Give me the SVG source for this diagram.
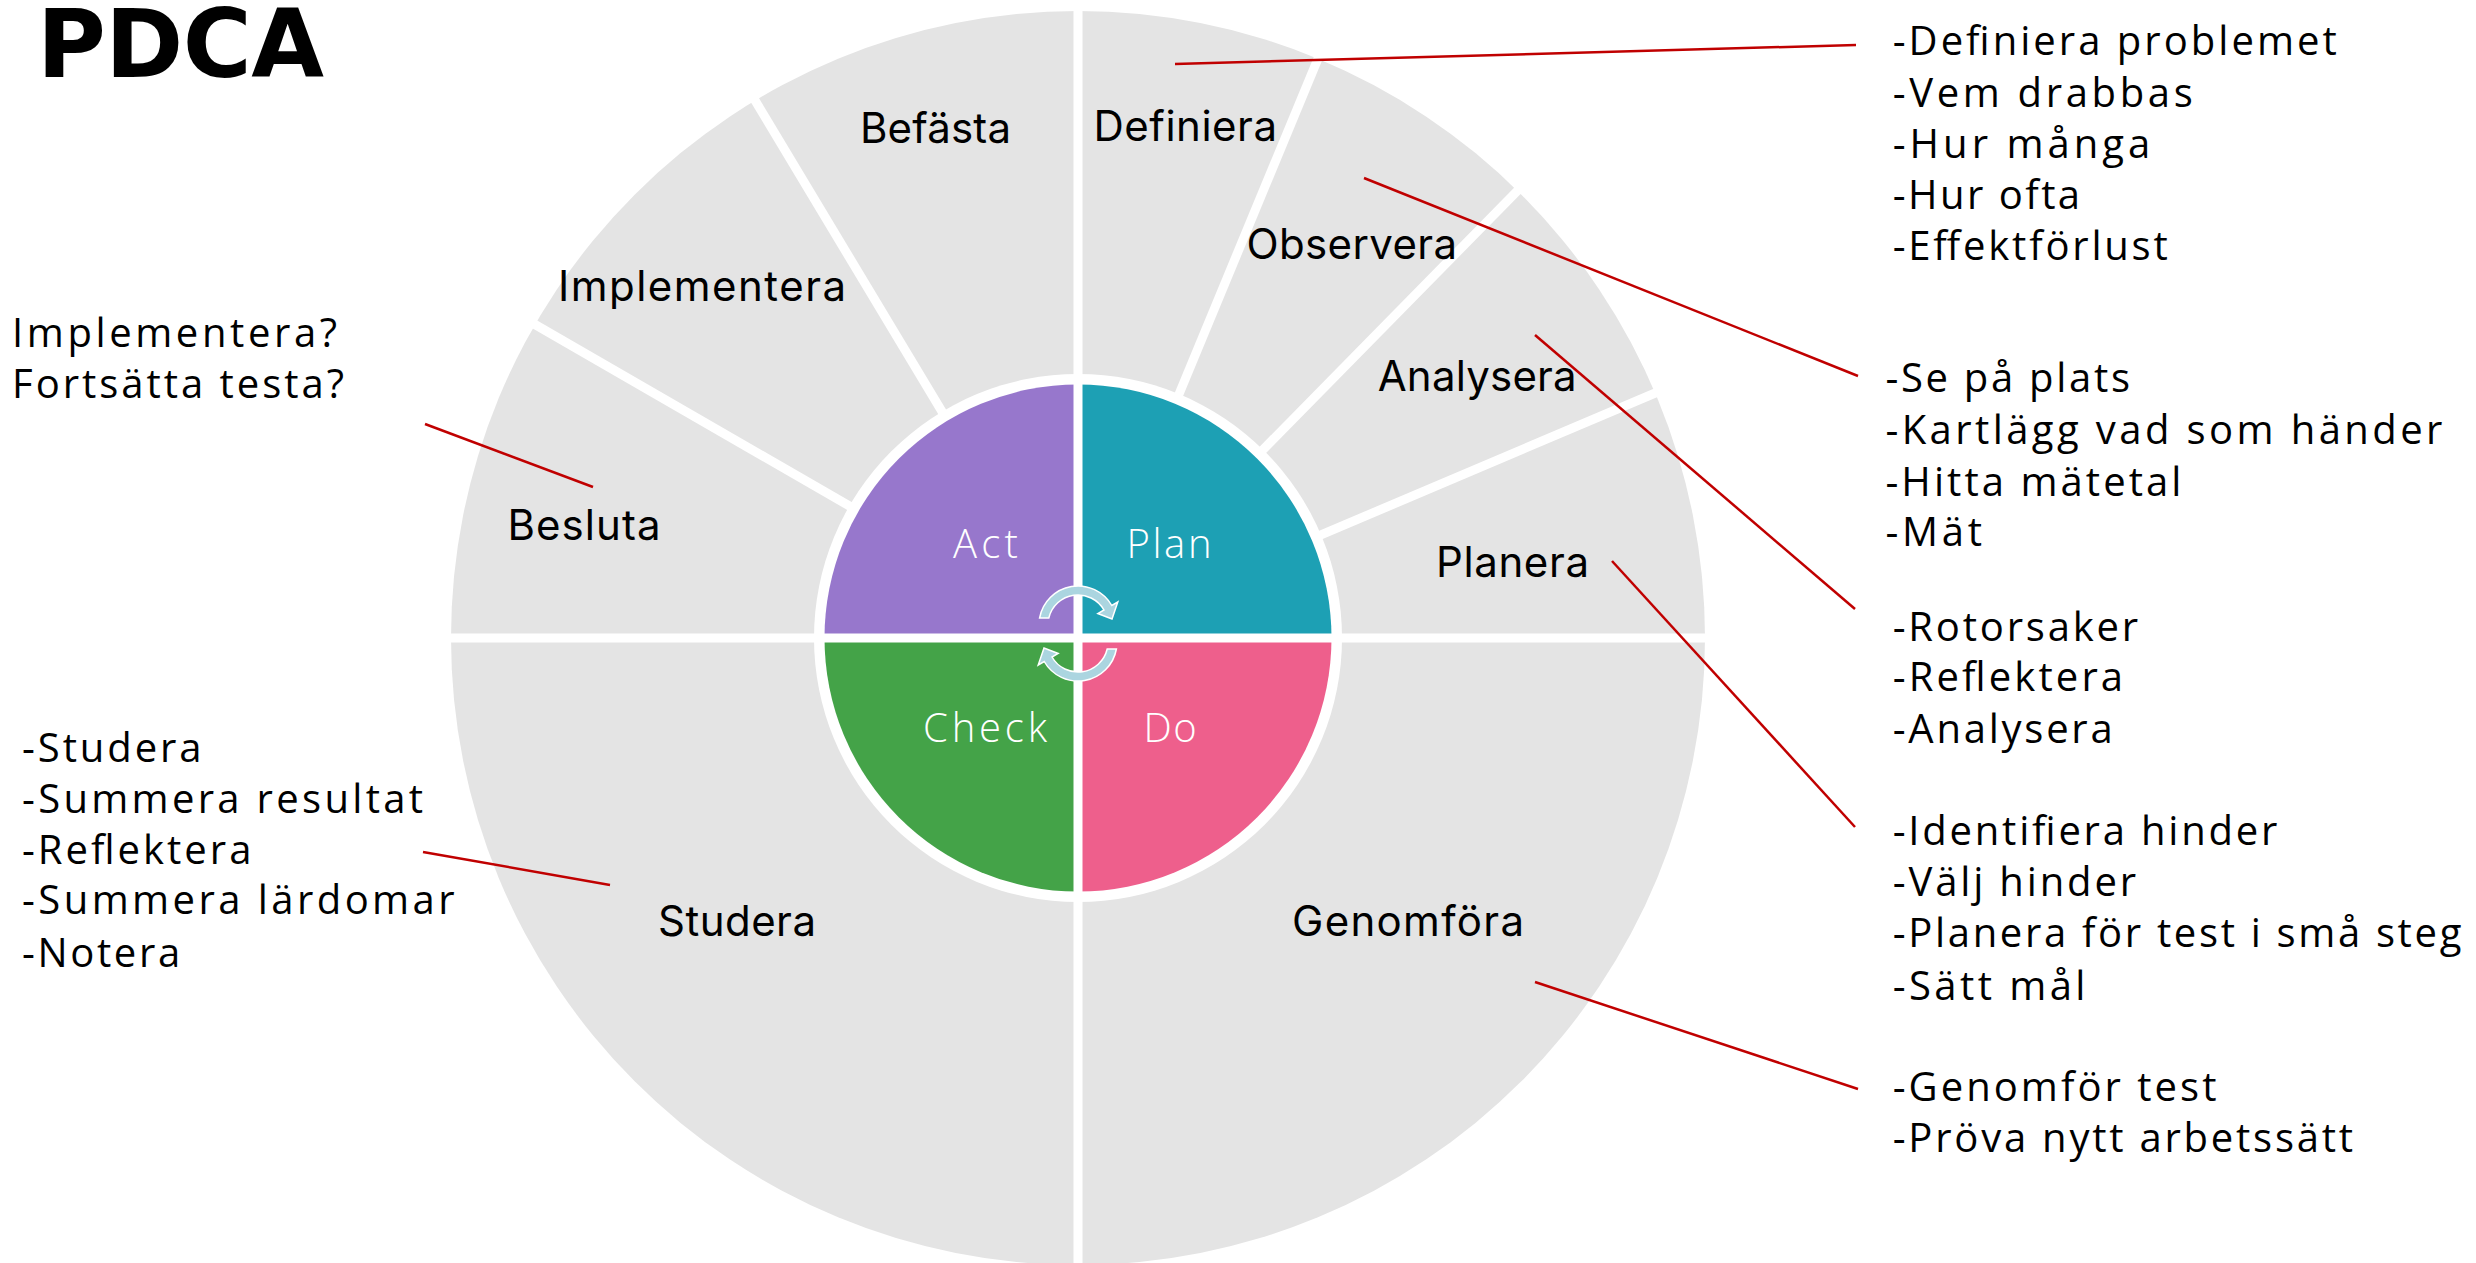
<svg xmlns="http://www.w3.org/2000/svg" width="2476" height="1263" viewBox="0 0 2476 1263">
  <style>
    .title { font-family: "DejaVu Sans", "Liberation Sans", sans-serif; font-weight: 700; font-size: 94px; fill: #000; }
    .seg { font-family: Inter, "Liberation Sans", sans-serif; font-size: 42px; fill: #000; }
    .core { font-family: "Open Sans", "Liberation Sans", sans-serif; font-weight: 300; font-size: 40px; fill: #fff; }
    .note { font-family: "Open Sans", "Liberation Sans", sans-serif; font-size: 40px; fill: #000; }
    .div { stroke: #fff; stroke-width: 9; fill: none; }
    .lead { stroke: #C00000; stroke-width: 2.5; fill: none; }
    .cyc { fill: #ABD5E0; stroke: #fff; stroke-width: 1.5; }
  </style>
  <rect width="2476" height="1263" fill="#fff"/>

  <g id="title">
    <text class="title" x="37" y="77" textLength="287">PDCA</text>
  </g>

  <g id="wheel">
    <circle cx="1078" cy="638" r="627" fill="#E4E4E4"/>
    <line class="div" x1="440" y1="638" x2="1716" y2="638"/>
    <line class="div" x1="1078" y1="0" x2="1078" y2="1263"/>
    <line class="div" x1="857.2" y1="510.5" x2="523.7" y2="318"/>
    <line class="div" x1="946.7" y1="419.4" x2="748.4" y2="89.4"/>
    <line class="div" x1="1175.6" y1="402.4" x2="1322.9" y2="46.7"/>
    <line class="div" x1="1256.7" y1="456.1" x2="1526.6" y2="181.5"/>
    <line class="div" x1="1312.7" y1="538.4" x2="1667.1" y2="388"/>
    <circle cx="1078" cy="638" r="264" fill="#fff"/>
  </g>

  <g id="seg-befasta"><text class="seg" x="860" y="143" textLength="151">Befästa</text></g>
  <g id="seg-definiera"><text class="seg" x="1093.5" y="141" textLength="183.5">Definiera</text></g>
  <g id="seg-implementera"><text class="seg" x="558" y="301" textLength="288">Implementera</text></g>
  <g id="seg-observera"><text class="seg" x="1246.5" y="259" textLength="210.5">Observera</text></g>
  <g id="seg-analysera"><text class="seg" x="1377.7" y="391" textLength="199">Analysera</text></g>
  <g id="seg-besluta"><text class="seg" x="507.5" y="540" textLength="153">Besluta</text></g>
  <g id="seg-planera"><text class="seg" x="1436" y="576.6" textLength="153">Planera</text></g>
  <g id="seg-studera"><text class="seg" x="658" y="936" textLength="158">Studera</text></g>
  <g id="seg-genomfora"><text class="seg" x="1292" y="936" textLength="232">Genomföra</text></g>

  <g id="act">
    <path d="M1078,638 L824.5,638 A253.5,253.5 0 0 1 1078,384.5 Z" fill="#9777CC"/>
    <text class="core" x="953" y="557.5" textLength="65">Act</text>
  </g>
  <g id="plan">
    <path d="M1078,638 L1078,384.5 A253.5,253.5 0 0 1 1331.5,638 Z" fill="#1DA0B4"/>
    <text class="core" x="1126.5" y="557.5" textLength="85">Plan</text>
  </g>
  <g id="check">
    <path d="M1078,638 L1078,891.5 A253.5,253.5 0 0 1 824.5,638 Z" fill="#44A348"/>
    <text class="core" x="923" y="742" textLength="124">Check</text>
  </g>
  <g id="do">
    <path d="M1078,638 L1331.5,638 A253.5,253.5 0 0 1 1078,891.5 Z" fill="#EE5F8C"/>
    <text class="core" x="1143.6" y="742" textLength="53">Do</text>
  </g>
  <g id="core-dividers">
    <line class="div" x1="820" y1="638" x2="1336" y2="638"/>
    <line class="div" x1="1078" y1="380" x2="1078" y2="896"/>
  </g>

  <g id="cycle-arrows">
    <path id="arrow-top" class="cyc" d="M1039.6,618 A39,39 0 0 1 1111.8,605.5 L1117.8,602 L1112,619 L1097.9,613.5 L1104,610 A30,30 0 0 0 1048.8,618 Z"/>
    <path id="arrow-bottom" class="cyc" transform="rotate(180 1078 633.5)" d="M1039.6,618 A39,39 0 0 1 1111.8,605.5 L1117.8,602 L1112,619 L1097.9,613.5 L1104,610 A30,30 0 0 0 1048.8,618 Z"/>
  </g>

  <g id="note-act">
    <text class="note" x="12" y="347" textLength="325">Implementera?</text>
    <text class="note" x="12" y="397.5" textLength="332">Fortsätta testa?</text>
  </g>
  <g id="note-check">
    <text class="note" x="22" y="761.5" textLength="179.5">-Studera</text>
    <text class="note" x="22" y="812.7" textLength="401">-Summera resultat</text>
    <text class="note" x="22" y="864" textLength="229.4">-Reflektera</text>
    <text class="note" x="22" y="914.4" textLength="432.6">-Summera lärdomar</text>
    <text class="note" x="22" y="966.5" textLength="158.2">-Notera</text>
  </g>
  <g id="note-definiera">
    <text class="note" x="1892.7" y="55" textLength="444">-Definiera problemet</text>
    <text class="note" x="1892.7" y="106.7" textLength="300">-Vem drabbas</text>
    <text class="note" x="1892.7" y="157.5" textLength="257.6">-Hur många</text>
    <text class="note" x="1892.7" y="209" textLength="187.4">-Hur ofta</text>
    <text class="note" x="1892.7" y="259.5" textLength="275">-Effektförlust</text>
  </g>
  <g id="note-observera">
    <text class="note" x="1885.4" y="391.5" textLength="244.6">-Se på plats</text>
    <text class="note" x="1885.4" y="444" textLength="557">-Kartlägg vad som händer</text>
    <text class="note" x="1885.4" y="496" textLength="296">-Hitta mätetal</text>
    <text class="note" x="1885.4" y="546" textLength="96.5">-Mät</text>
  </g>
  <g id="note-analysera">
    <text class="note" x="1892.7" y="641" textLength="245.4">-Rotorsaker</text>
    <text class="note" x="1892.7" y="691" textLength="230.4">-Reflektera</text>
    <text class="note" x="1892.7" y="743" textLength="220">-Analysera</text>
  </g>
  <g id="note-planera">
    <text class="note" x="1892.7" y="845" textLength="384.6">-Identifiera hinder</text>
    <text class="note" x="1892.7" y="896" textLength="243.4">-Välj hinder</text>
    <text class="note" x="1892.7" y="947" textLength="568.7">-Planera för test i små steg</text>
    <text class="note" x="1892.7" y="1000" textLength="192.7">-Sätt mål</text>
  </g>
  <g id="note-genomfora">
    <text class="note" x="1892.7" y="1101" textLength="323.7">-Genomför test</text>
    <text class="note" x="1892.7" y="1152" textLength="460.4">-Pröva nytt arbetssätt</text>
  </g>

  <g id="connectors">
    <line class="lead" x1="1175" y1="64" x2="1856" y2="45"/>
    <line class="lead" x1="1364" y1="178" x2="1858" y2="376"/>
    <line class="lead" x1="1535" y1="335" x2="1855" y2="609"/>
    <line class="lead" x1="1612" y1="561" x2="1855" y2="827"/>
    <line class="lead" x1="1535" y1="982" x2="1858" y2="1089"/>
    <line class="lead" x1="423" y1="852" x2="610" y2="885"/>
    <line class="lead" x1="425" y1="424" x2="593" y2="487"/>
  </g>
</svg>
